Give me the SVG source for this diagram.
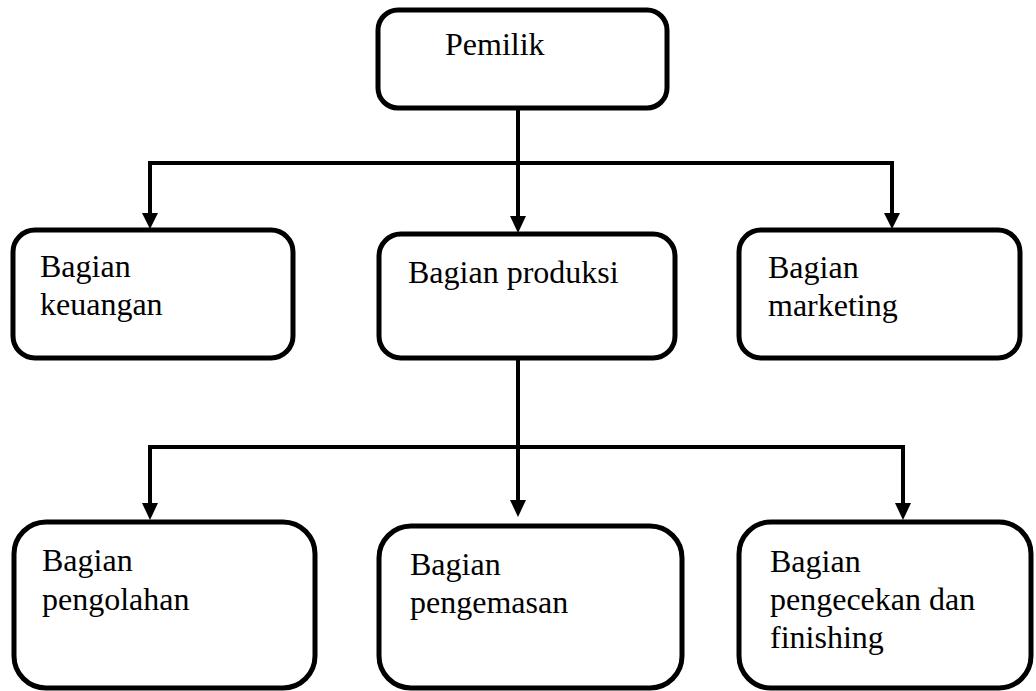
<svg xmlns="http://www.w3.org/2000/svg" width="1036" height="691" viewBox="0 0 1036 691">
<defs>
<style>
.box{fill:#fff;stroke:#000;stroke-width:5}
.ln{fill:none;stroke:#000;stroke-width:4}
.ah{fill:#000}
.t{font-family:"Liberation Serif","Times New Roman",serif;font-size:32px;fill:#000}
</style>
</defs>
<g id="connectors">
<path class="ln" d="M518,108 V216"/>
<polygon class="ah" points="510,216 526,216 518,233"/>
<path class="ln" d="M150,214 V163 H892 V214"/>
<polygon class="ah" points="142,213 158,213 150,229"/>
<polygon class="ah" points="884,213 900,213 892,229"/>
<path class="ln" d="M518,358 V502"/>
<polygon class="ah" points="510,500 526,500 518,517"/>
<path class="ln" d="M150,504 V447 H903 V504"/>
<polygon class="ah" points="142,503 158,503 150,520"/>
<polygon class="ah" points="895,503 911,503 903,520"/>
</g>
<g id="pemilik">
<rect class="box" x="378" y="10" width="289" height="98" rx="20"/>
<text class="t" x="445" y="55">Pemilik</text>
</g>
<g id="keuangan">
<rect class="box" x="13" y="230" width="280" height="128" rx="22"/>
<text class="t" x="40" y="277">Bagian</text>
<text class="t" x="40" y="315">keuangan</text>
</g>
<g id="produksi">
<rect class="box" x="379" y="234" width="296" height="124" rx="22"/>
<text class="t" x="408" y="283">Bagian produksi</text>
</g>
<g id="marketing">
<rect class="box" x="739" y="230" width="281" height="128" rx="22"/>
<text class="t" x="768" y="278">Bagian</text>
<text class="t" x="768" y="316">marketing</text>
</g>
<g id="pengolahan">
<rect class="box" x="14" y="522" width="301" height="166" rx="32"/>
<text class="t" x="42" y="571">Bagian</text>
<text class="t" x="42" y="610">pengolahan</text>
</g>
<g id="pengemasan">
<rect class="box" x="379" y="526" width="303" height="162" rx="32"/>
<text class="t" x="410" y="575">Bagian</text>
<text class="t" x="410" y="613">pengemasan</text>
</g>
<g id="pengecekan">
<rect class="box" x="739" y="522" width="292" height="166" rx="32"/>
<text class="t" x="770" y="572">Bagian</text>
<text class="t" x="770" y="610">pengecekan dan</text>
<text class="t" x="770" y="648">finishing</text>
</g>
</svg>
